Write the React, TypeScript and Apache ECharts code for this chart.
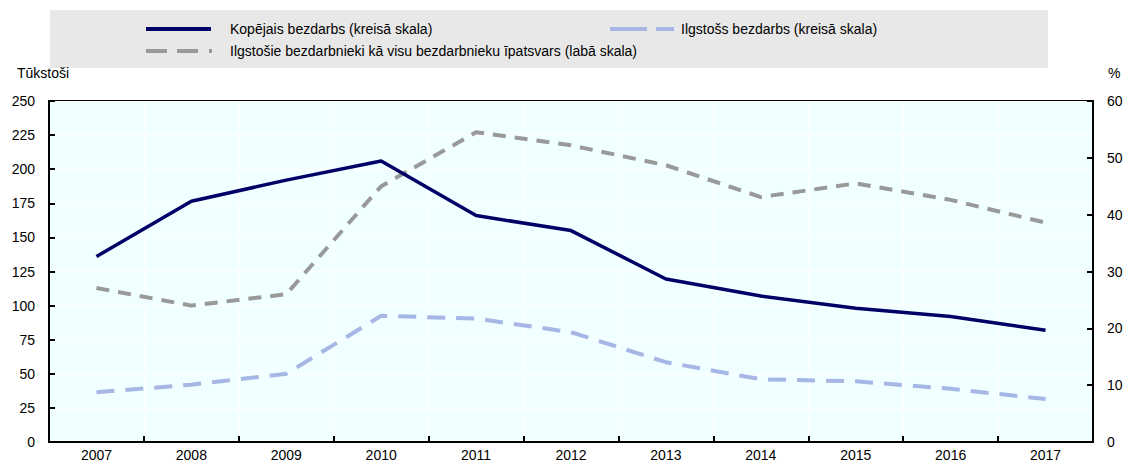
import React, { useEffect, useRef } from "react";
import * as echarts from "echarts";

const years = ["2007", "2008", "2009", "2010", "2011", "2012", "2013", "2014", "2015", "2016", "2017"];
const totalUnemployment = [136, 176.5, 192, 206, 166, 155, 119.5, 107, 98, 92, 82];
const longTermUnemployment = [36.5, 42, 50, 92.5, 90.5, 80.5, 58.5, 46, 44.5, 39, 31.5];
const longTermShare = [27.1, 24, 26, 45, 54.5, 52.2, 48.7, 43.1, 45.5, 42.6, 38.6];

const nameTotal = "Kopējais bezdarbs (kreisā skala)";
const nameLong = "Ilgstošs bezdarbs (kreisā skala)";
const nameShare = "Ilgstošie bezdarbnieki kā visu bezdarbnieku īpatsvars (labā skala)";

const FONT = "Liberation Sans, Arial, sans-serif";

export default function App() {
  const ref = useRef<HTMLDivElement>(null);
  useEffect(() => {
    document.body.style.margin = "0";
    const chart = echarts.init(ref.current!, null, { renderer: "svg" });
    const legendCommon = {
      itemHeight: 4,
      symbolKeepAspect: false,
      selectedMode: false,
      orient: "horizontal",
    };
    const txt = (padLeft: number) => ({ fontFamily: FONT, fontSize: 14, color: "#000", padding: [0, 0, 0, padLeft] });
    chart.setOption({
      animation: false,
      textStyle: { fontFamily: FONT },
      graphic: [
        { type: "rect", left: 50, top: 10, shape: { width: 998, height: 58 }, style: { fill: "#E8E8E8" }, z: -10 },
        { type: "text", left: 17, top: 66, style: { text: "Tūkstoši", fontFamily: FONT, fontSize: 14, fill: "#000" } },
        { type: "text", left: 1108, top: 66, style: { text: "%", fontFamily: FONT, fontSize: 14, fill: "#000" } },
      ],
      legend: [
        {
          ...legendCommon,
          left: 141,
          top: 17,
          itemWidth: 65,
          textStyle: txt(14),
          data: [{ name: nameTotal, icon: "path://M0,0H65V4H0Z" }],
        },
        {
          ...legendCommon,
          left: 605,
          top: 17,
          itemWidth: 64,
          textStyle: txt(2),
          data: [{ name: nameLong, icon: "path://M0,0H37V4H0Z M46,0H64V4H46Z" }],
        },
        {
          ...legendCommon,
          left: 141,
          top: 39,
          itemWidth: 66,
          textStyle: txt(13),
          data: [{ name: nameShare, icon: "path://M0,0H21V4H0Z M31,0H52V4H31Z M63,0H66V4H63Z" }],
        },
      ],
      grid: { left: 49, right: 38, top: 101, bottom: 23, show: true, backgroundColor: "#F0FFFF", borderColor: "#000", borderWidth: 2 },
      xAxis: {
        type: "category",
        data: years,
        boundaryGap: true,
        axisLine: { lineStyle: { color: "#000", width: 2 } },
        axisTick: { show: true, inside: true, length: 6, lineStyle: { color: "#000", width: 2 } },
        axisLabel: { color: "#000", fontSize: 14, margin: 6 },
        splitLine: { show: true, lineStyle: { color: "#FFFFFF", width: 1 } },
      },
      yAxis: [
        {
          type: "value",
          min: 0,
          max: 250,
          interval: 25,
          axisLine: { show: true, lineStyle: { color: "#000", width: 2 } },
          axisTick: { show: true, inside: true, length: 6, lineStyle: { color: "#000", width: 2 } },
          axisLabel: { color: "#000", fontSize: 14, margin: 14 },
          splitLine: { show: true, lineStyle: { color: "#FFFFFF", width: 1 } },
        },
        {
          type: "value",
          min: 0,
          max: 60,
          interval: 10,
          position: "right",
          axisLine: { show: true, lineStyle: { color: "#000", width: 2 } },
          axisTick: { show: true, inside: true, length: 6, lineStyle: { color: "#000", width: 2 } },
          axisLabel: { color: "#000", fontSize: 14, margin: 14 },
          splitLine: { show: false },
        },
      ],
      series: [
        {
          name: nameShare,
          type: "line",
          yAxisIndex: 1,
          data: longTermShare,
          symbol: "none",
          lineStyle: { color: "#999999", width: 4, type: [13, 9] },
          itemStyle: { color: "#999999" },
        },
        {
          name: nameLong,
          type: "line",
          yAxisIndex: 0,
          data: longTermUnemployment,
          symbol: "none",
          lineStyle: { color: "#A6B6E5", width: 4, type: [18, 11] },
          itemStyle: { color: "#A6B6E5" },
        },
        {
          name: nameTotal,
          type: "line",
          yAxisIndex: 0,
          data: totalUnemployment,
          symbol: "none",
          lineStyle: { color: "#000066", width: 3.5 },
          itemStyle: { color: "#000066" },
        },
      ],
    });
    return () => chart.dispose();
  }, []);
  return <div ref={ref} style={{ width: 1131, height: 465 }} />;
}
